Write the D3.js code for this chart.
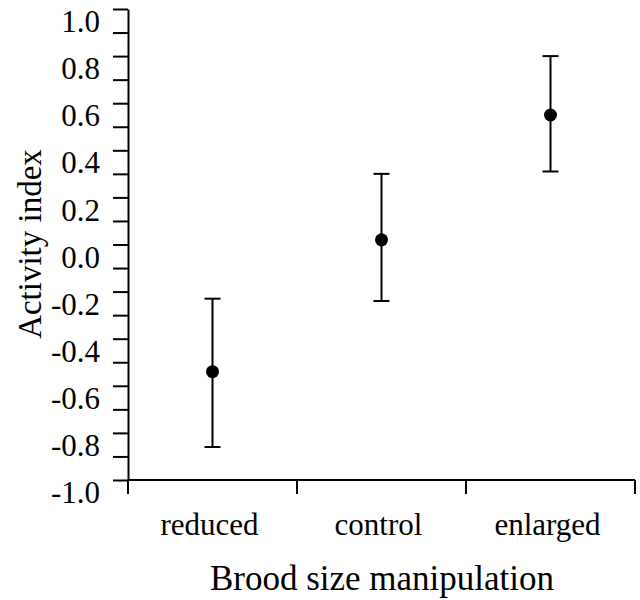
<!DOCTYPE html>
<html>
<head>
<meta charset="utf-8">
<script src="https://cdn.jsdelivr.net/npm/d3@7"></script>
<style>
  html, body { margin: 0; padding: 0; background: #fff; }
  svg text { font-family: "Liberation Serif", "Times New Roman", serif; fill: #000; }
</style>
</head>
<body>
<svg id="chart" width="640" height="600"></svg>
<script>
const categories = ["reduced", "control", "enlarged"];
const means = [-0.54, 0.02, 0.55];
const lower = [-0.86, -0.24, 0.31];
const upper = [-0.23, 0.30, 0.80];
const yTickValues = d3.range(-10, 11).map(d => d / 10);
const yTickLabels = ["-1.0", "-0.8", "-0.6", "-0.4", "-0.2", "0.0", "0.2", "0.4", "0.6", "0.8", "1.0"];
const xTitle = "Brood size manipulation";
const yTitle = "Activity index";

const svg = d3.select("#chart");
const plotLeft = 128, plotRight = 635, plotTop = 9, plotBottom = 480;
const serif = "'Liberation Serif', 'Times New Roman', serif";

const x = d3.scaleBand().domain(categories).range([plotLeft, plotRight]).paddingInner(0).paddingOuter(0);
const y = d3.scaleLinear().domain([-1, 1]).range([plotBottom, plotTop]);

// Y axis
const yAxis = d3.axisLeft(y)
  .tickValues(yTickValues)
  .tickSize(15)
  .tickSizeOuter(0)
  .tickPadding(13)
  .tickFormat(d => {
    const s = d.toFixed(1);
    return yTickLabels.includes(s) && Math.round(d * 10) % 2 === 0 ? s : "";
  });
const gy = svg.append("g").attr("transform", `translate(${plotLeft},0)`).call(yAxis)
  .attr("font-family", serif).attr("font-size", 31);
gy.select(".domain").attr("stroke", "#000").attr("stroke-width", 2);
gy.selectAll(".tick line").attr("stroke", "#000").attr("stroke-width", 2);
gy.selectAll(".tick text")
  .style("font-family", serif)
  .attr("dy", "0.35em")
  .attr("y", (y(0) - y(0.1)) / 2);

// X axis (ticks at band boundaries)
const boundaries = categories.map(c => x(c)).concat([x(categories[categories.length - 1]) + x.bandwidth()]);
const gx = svg.append("g");
gx.append("line")
  .attr("x1", plotLeft).attr("x2", plotRight)
  .attr("y1", y(-1)).attr("y2", y(-1))
  .attr("stroke", "#000").attr("stroke-width", 2);
gx.selectAll("line.xt").data(boundaries).join("line")
  .attr("class", "xt")
  .attr("x1", d => d).attr("x2", d => d)
  .attr("y1", y(-1)).attr("y2", y(-1) + 14)
  .attr("stroke", "#000").attr("stroke-width", 2);
gx.selectAll("text.xl").data(categories).join("text")
  .attr("class", "xl")
  .attr("x", d => x(d) + x.bandwidth() / 2 - 3)
  .attr("y", 535)
  .attr("text-anchor", "middle")
  .attr("font-size", 31)
  .text(d => d);

// Titles
svg.append("text")
  .attr("x", 382).attr("y", 590)
  .attr("text-anchor", "middle")
  .attr("font-size", 35)
  .text(xTitle);
svg.append("text")
  .attr("transform", "translate(41,244) rotate(-90)")
  .attr("text-anchor", "middle")
  .attr("font-size", 33)
  .text(yTitle);

// Error bars and points
const data = categories.map((c, i) => ({ c, m: means[i], lo: lower[i], hi: upper[i] }));
const cap = 8;
const g = svg.append("g");
g.selectAll("line.eb").data(data).join("line")
  .attr("class", "eb")
  .attr("x1", d => x(d.c) + x.bandwidth() / 2).attr("x2", d => x(d.c) + x.bandwidth() / 2)
  .attr("y1", d => y(d.lo)).attr("y2", d => y(d.hi))
  .attr("stroke", "#000").attr("stroke-width", 2);
g.selectAll("line.capHi").data(data).join("line")
  .attr("class", "capHi")
  .attr("x1", d => x(d.c) + x.bandwidth() / 2 - cap).attr("x2", d => x(d.c) + x.bandwidth() / 2 + cap)
  .attr("y1", d => y(d.hi)).attr("y2", d => y(d.hi))
  .attr("stroke", "#000").attr("stroke-width", 2);
g.selectAll("line.capLo").data(data).join("line")
  .attr("class", "capLo")
  .attr("x1", d => x(d.c) + x.bandwidth() / 2 - cap).attr("x2", d => x(d.c) + x.bandwidth() / 2 + cap)
  .attr("y1", d => y(d.lo)).attr("y2", d => y(d.lo))
  .attr("stroke", "#000").attr("stroke-width", 2);
g.selectAll("circle").data(data).join("circle")
  .attr("cx", d => x(d.c) + x.bandwidth() / 2)
  .attr("cy", d => y(d.m))
  .attr("r", 6.5)
  .attr("fill", "#000");
</script>
</body>
</html>
